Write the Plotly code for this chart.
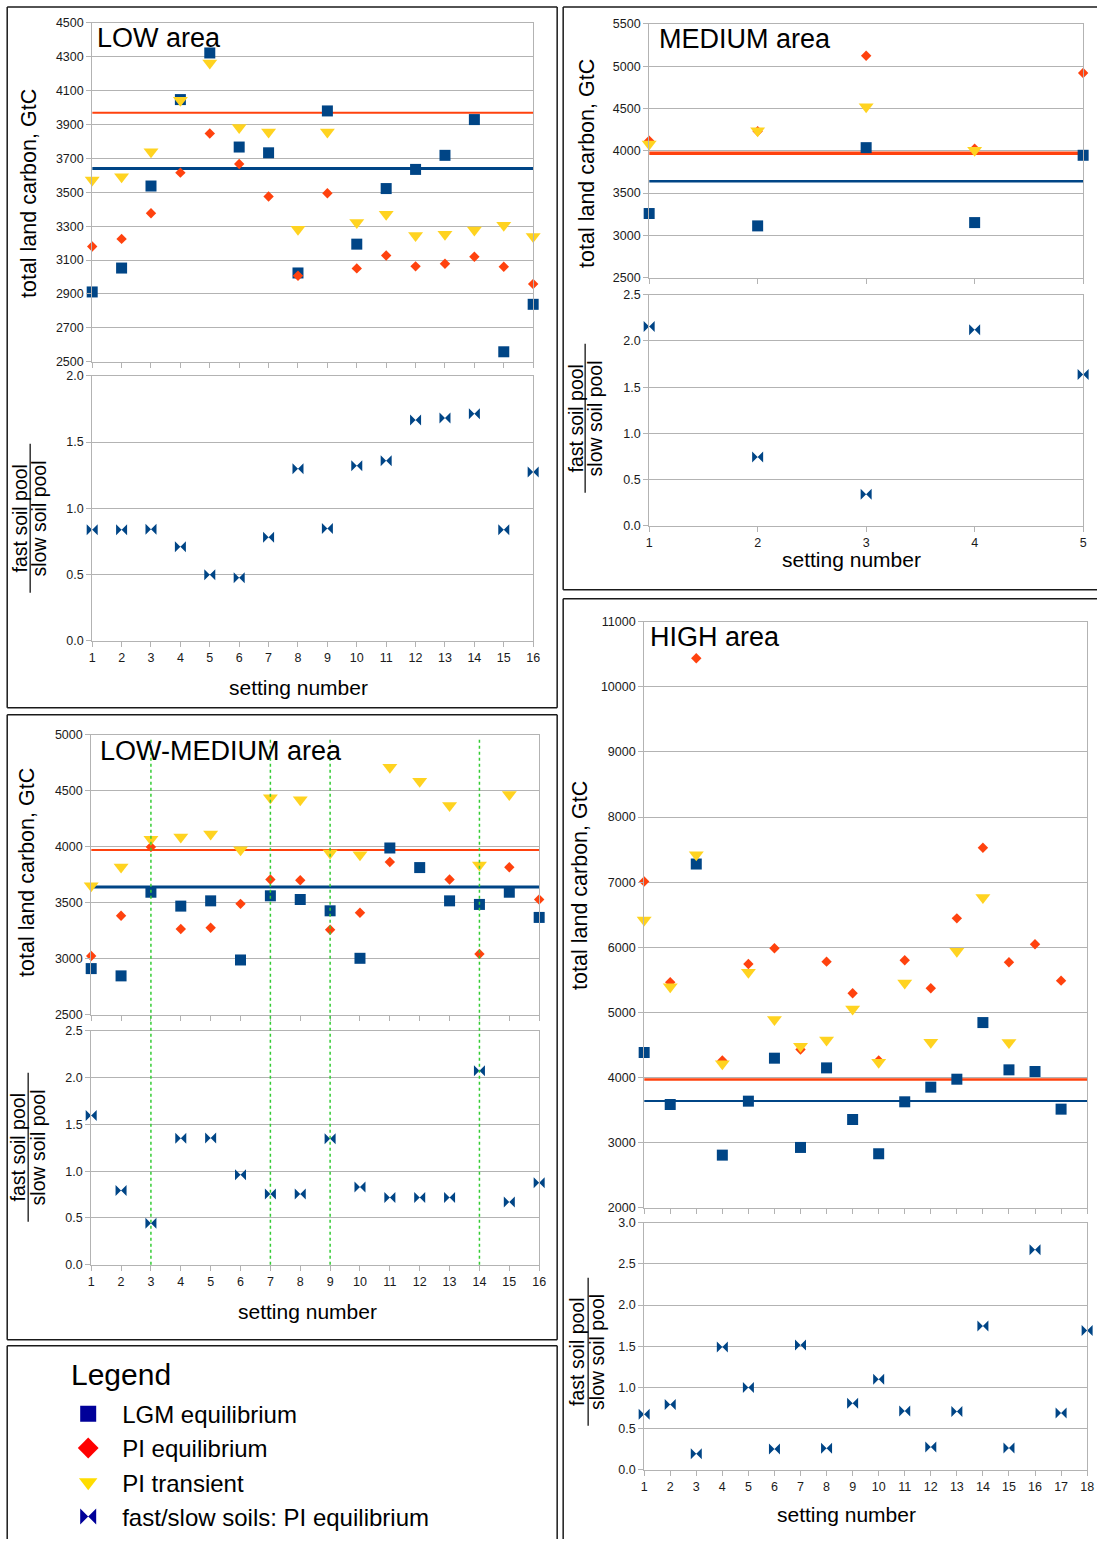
import plotly.graph_objects as go

W, H = 1104, 1546
FONT = "Liberation Sans, Arial, sans-serif"
GRID = "#b3b3b3"
C_LGM = "#004586"
C_PIEQ = "#ff420e"
C_PITR = "#ffd320"

# Reference levels of total land carbon (GtC)
PI_EQ_LEVEL = 3970
LGM_EQ_LEVEL = 3640

# ---- LOW area ----
low_setting = list(range(1, 17))
low_lgm_eq = [2912, 3053, 3537, 4047, 4322, 3767, 3733, 3024, 3980, 3194, 3522, 3635, 3718, 3929, 2559, 2839]
low_pi_eq = [3180, 3225, 3376, 3616, 3847, 3667, 3475, 3008, 3494, 3051, 3127, 3063, 3078, 3120, 3061, 2959]
low_pi_tr = [3573, 3592, 3739, 4043, 4263, 3882, 3855, 3282, 3855, 3322, 3371, 3245, 3253, 3278, 3306, 3239]
low_ratio = [0.837, 0.837, 0.842, 0.709, 0.499, 0.476, 0.782, 1.298, 0.847, 1.321, 1.358, 1.667, 1.682, 1.714, 0.837, 1.273]

# ---- MEDIUM area ----
med_setting = [1, 2, 3, 4, 5]
med_lgm_eq = [3259, 3113, 4037, 3152, 3947]
med_pi_eq = [4120, 4230, 5123, 4025, 4918]
med_pi_tr = [4080, 4238, 4521, 4006, None]
med_ratio = [2.158, 0.745, 0.342, 2.122, 1.637]

# ---- LOW-MEDIUM area ----
lm_setting = list(range(1, 17))
lm_lgm_eq = [2912, 2847, 3594, 3470, 3517, 2989, 3562, 3529, 3428, 3004, 3989, 3814, 3517, 3485, 3594, 3369]
lm_pi_eq = [3025, 3384, 3998, 3265, 3277, 3490, 3707, 3701, 3259, 3411, 3864, None, 3707, 3043, 3817, 3529]
lm_pi_tr = [3651, 3820, 4066, 4087, 4113, 3974, 4437, 4419, 3944, 3929, 4709, 4585, 4368, 3837, 4466, None]
lm_ratio = [1.595, 0.794, 0.442, 1.350, 1.353, 0.962, 0.755, 0.755, 1.346, 0.830, 0.719, 0.719, 0.719, 2.073, 0.670, 0.876]
lm_marked_settings = [3, 7, 9, 14]

# ---- HIGH area ----
high_setting = list(range(1, 19))
high_lgm_eq = [4384, 3586, 7279, 2808, 3637, 4297, 2926, 4148, 3355, 2829, 3627, 3852, 3974, 4844, 4118, 4092, 3514, None]
high_pi_eq = [7011, 5463, 10439, 4261, 5744, 5985, 4430, 5780, 5294, 4261, 5801, 5371, 6445, 7529, 5770, 6046, 5488, None]
high_pi_tr = [6420, 5396, 7421, 4210, 5616, 4890, 4481, 4578, 5054, 4235, 5453, 4542, 5939, 6766, 4537, None, None, None]
high_ratio = [0.673, 0.791, 0.195, 1.492, 0.998, 0.252, 1.516, 0.260, 0.807, 1.099, 0.714, 0.276, 0.706, 1.747, 0.263, 2.672, 0.689, 1.690]

legend_names = ["LGM equilibrium", "PI equilibrium", "PI transient", "fast/slow soils: PI equilibrium"]

# The page is displayed slightly reduced and shifted; place everything in
# displayed-pixel terms and convert back to paper fractions.
VIEW_SCALE = 0.991
VIEW_DX, VIEW_DY = 2.8, 6.2


def px(x):
    return ((x - VIEW_DX) / VIEW_SCALE) / W


def py(y):
    return 1 - ((y - VIEW_DY) / VIEW_SCALE) / H


def clip01(v):
    return min(1.0, max(0.0, v))


def axname(k):
    return "" if k == 1 else str(k)


fig = go.Figure()
layout_axes = {}
annotations = []
shapes = []

TICKFONT = dict(family=FONT, size=12.5, color="#1a1a1a")


def add_panel(n, setting, lgm, pieq, pitr, ratio, xpix, top_pix, bot_pix,
              top_range, top_dtick, bot_range, ref_w, title, title_pos,
              ytitle_pos, frac_pos, xlabel_pos):
    kt, kb = 2 * n - 1, 2 * n
    xt, yt = "x" + axname(kt), "y" + axname(kt)
    xb, yb = "x" + axname(kb), "y" + axname(kb)
    xdom = [px(xpix[0]), px(xpix[1])]
    xr = [setting[0], setting[-1]]

    common_x = dict(domain=xdom, range=xr, tickmode="linear", tick0=1, dtick=1,
                    showgrid=False, zeroline=False, showline=True, mirror=True,
                    linecolor=GRID, linewidth=1, ticks="outside", ticklen=5,
                    tickcolor=GRID, tickfont=TICKFONT, fixedrange=True)
    layout_axes["xaxis" + axname(kt)] = dict(common_x, anchor=yt, showticklabels=False)
    layout_axes["xaxis" + axname(kb)] = dict(common_x, anchor=yb, showticklabels=True)

    common_y = dict(showgrid=True, gridcolor=GRID, gridwidth=1, zeroline=False,
                    showline=True, mirror=True, linecolor=GRID, linewidth=1,
                    ticks="outside", ticklen=5, tickcolor=GRID, tickfont=TICKFONT,
                    fixedrange=True, tickmode="linear")
    layout_axes["yaxis" + axname(kt)] = dict(common_y, anchor=xt,
                                             domain=[py(top_pix[1]), py(top_pix[0])],
                                             range=top_range, tick0=top_range[0], dtick=top_dtick,
                                             tickformat="d")
    layout_axes["yaxis" + axname(kb)] = dict(common_y, anchor=xb,
                                             domain=[py(bot_pix[1]), py(bot_pix[0])],
                                             range=bot_range, tick0=0, dtick=0.5, tickformat=".1f")

    # reference levels
    fig.add_trace(go.Scatter(x=xr, y=[PI_EQ_LEVEL] * 2, mode="lines", xaxis=xt, yaxis=yt,
                             line=dict(color=C_PIEQ, width=ref_w[0]), showlegend=False, hoverinfo="skip"))
    fig.add_trace(go.Scatter(x=xr, y=[LGM_EQ_LEVEL] * 2, mode="lines", xaxis=xt, yaxis=yt,
                             line=dict(color=C_LGM, width=ref_w[1]), showlegend=False, hoverinfo="skip"))
    # settings
    fig.add_trace(go.Scatter(x=setting, y=lgm, mode="markers", xaxis=xt, yaxis=yt, cliponaxis=False,
                             marker=dict(symbol="square", size=11, color=C_LGM, line=dict(width=0)),
                             name=legend_names[0], showlegend=False))
    fig.add_trace(go.Scatter(x=setting, y=pieq, mode="markers", xaxis=xt, yaxis=yt, cliponaxis=False,
                             marker=dict(symbol="diamond", size=8, color=C_PIEQ, line=dict(width=0)),
                             name=legend_names[1], showlegend=False))
    fig.add_trace(go.Scatter(x=setting, y=pitr, mode="markers", xaxis=xt, yaxis=yt, cliponaxis=False,
                             marker=dict(symbol="triangle-down", size=13, color=C_PITR, line=dict(width=0)),
                             name=legend_names[2], showlegend=False))
    fig.add_trace(go.Scatter(x=setting, y=ratio, mode="markers", xaxis=xb, yaxis=yb, cliponaxis=False,
                             marker=dict(symbol="bowtie", size=11, color=C_LGM, line=dict(width=0)),
                             name=legend_names[3], showlegend=False))

    # panel title
    annotations.append(dict(text=title, x=px(title_pos[0]), y=py(title_pos[1]), xref="paper", yref="paper",
                            xanchor="left", yanchor="middle", showarrow=False,
                            font=dict(family=FONT, size=27, color="black")))
    # y title of the carbon plot
    annotations.append(dict(text="total land carbon, GtC", x=px(ytitle_pos[0]), y=py(ytitle_pos[1]),
                            xref="paper", yref="paper", textangle=-90, showarrow=False,
                            xanchor="center", yanchor="middle",
                            font=dict(family=FONT, size=21.5, color="black")))
    # ratio title as a fraction
    fx1, fx2, fline, fy0, fy1 = frac_pos
    fyc = (fy0 + fy1) / 2
    annotations.append(dict(text="fast soil pool", x=px(fx1), y=py(fyc), xref="paper", yref="paper",
                            textangle=-90, showarrow=False, xanchor="center", yanchor="middle",
                            font=dict(family=FONT, size=19.5, color="black")))
    annotations.append(dict(text="slow soil pool", x=px(fx2), y=py(fyc), xref="paper", yref="paper",
                            textangle=-90, showarrow=False, xanchor="center", yanchor="middle",
                            font=dict(family=FONT, size=19.5, color="black")))
    shapes.append(dict(type="line", xref="paper", yref="paper", x0=px(fline), x1=px(fline),
                       y0=py(fy1), y1=py(fy0), line=dict(color="#333333", width=1.5)))
    # x title
    annotations.append(dict(text="setting number", x=px(xlabel_pos[0]), y=py(xlabel_pos[1]),
                            xref="paper", yref="paper", showarrow=False, xanchor="center",
                            yanchor="middle", font=dict(family=FONT, size=21, color="black")))
    return xt


add_panel(1, low_setting, low_lgm_eq, low_pi_eq, low_pi_tr, low_ratio,
          xpix=(92, 533), top_pix=(22, 361), bot_pix=(375, 640),
          top_range=[2500, 4500], top_dtick=200, bot_range=[0, 2.0], ref_w=(2, 3),
          title="LOW area", title_pos=(95, 37), ytitle_pos=(29, 193),
          frac_pos=(20, 39, 30, 443, 592), xlabel_pos=(298, 687))

add_panel(2, med_setting, med_lgm_eq, med_pi_eq, med_pi_tr, med_ratio,
          xpix=(649, 1083), top_pix=(23, 277), bot_pix=(294, 525),
          top_range=[2500, 5500], top_dtick=500, bot_range=[0, 2.5], ref_w=(3.5, 2.5),
          title="MEDIUM area", title_pos=(657, 38), ytitle_pos=(587, 163),
          frac_pos=(576, 595, 585, 343, 492), xlabel_pos=(851, 559))

lm_x = add_panel(3, lm_setting, lm_lgm_eq, lm_pi_eq, lm_pi_tr, lm_ratio,
                 xpix=(91, 539), top_pix=(734, 1014), bot_pix=(1030, 1264),
                 top_range=[2500, 5000], top_dtick=500, bot_range=[0, 2.5], ref_w=(2, 3),
                 title="LOW-MEDIUM area", title_pos=(98, 750), ytitle_pos=(27, 872),
                 frac_pos=(18, 38, 28, 1072, 1221), xlabel_pos=(307, 1311))

add_panel(4, high_setting, high_lgm_eq, high_pi_eq, high_pi_tr, high_ratio,
          xpix=(644, 1087), top_pix=(621, 1207), bot_pix=(1222, 1469),
          top_range=[2000, 11000], top_dtick=1000, bot_range=[0, 3.0], ref_w=(2.5, 2),
          title="HIGH area", title_pos=(648, 636), ytitle_pos=(580, 885),
          frac_pos=(577, 597, 588, 1277, 1425), xlabel_pos=(846, 1514))

# highlighted settings in the LOW-MEDIUM area (dotted green verticals through both plots)
for s in lm_marked_settings:
    shapes.append(dict(type="line", xref=lm_x, yref="paper", x0=s, x1=s,
                       y0=py(1264), y1=py(738), layer="above",
                       line=dict(color="#33cc33", width=1.5, dash="3px,3px")))

# panel frames, drawn as edge segments kept inside the page
FRAME = dict(color="#1a1a1a", width=1.5)
frame_segments = [
    # LOW
    (7, 5, 557, 5), (7, 707, 557, 707), (7, 5, 7, 707), (557, 5, 557, 707),
    # MEDIUM
    (563, 4, 1110, 4), (563, 589, 1110, 589), (563, 4, 563, 589),
    # LOW-MEDIUM
    (7, 714, 557, 714), (7, 1339, 557, 1339), (7, 714, 7, 1339), (557, 714, 557, 1339),
    # legend box
    (7, 1345, 557, 1345), (7, 1345, 7, 1560), (557, 1345, 557, 1560),
    # HIGH
    (563, 598, 1110, 598), (563, 598, 563, 1560),
]
for (x0, y0, x1, y1) in frame_segments:
    shapes.append(dict(type="line", xref="paper", yref="paper",
                       x0=clip01(px(x0)), x1=clip01(px(x1)),
                       y0=clip01(py(y0)), y1=clip01(py(y1)), line=FRAME, layer="above"))

# legend heading
annotations.append(dict(text="Legend", x=px(69), y=py(1374), xref="paper", yref="paper",
                        xanchor="left", yanchor="middle", showarrow=False,
                        font=dict(family=FONT, size=30, color="black")))

# legend entries
legend_styles = [("square", "#000099", 16), ("diamond", "#ff0000", 16),
                 ("triangle-down", "#ffdd00", 16), ("bowtie", "#000099", 16)]
for name, (sym, col, sz) in zip(legend_names, legend_styles):
    fig.add_trace(go.Scatter(x=[None], y=[None], mode="markers", name=name,
                             marker=dict(symbol=sym, color=col, size=sz, line=dict(width=0)),
                             showlegend=True, xaxis="x", yaxis="y"))

fig.update_layout(
    width=W, height=H,
    margin=dict(l=0, r=0, t=0, b=0),
    paper_bgcolor="white", plot_bgcolor="white",
    font=dict(family=FONT, color="black"),
    annotations=annotations,
    shapes=shapes,
    showlegend=True,
    legend=dict(x=px(54), y=py(1391), xanchor="left", yanchor="top",
                bgcolor="rgba(0,0,0,0)", borderwidth=0, itemwidth=58,
                tracegroupgap=0, itemclick=False, itemdoubleclick=False,
                font=dict(family=FONT, size=24, color="black")),
    **layout_axes,
)

fig.write_html("out.html")
